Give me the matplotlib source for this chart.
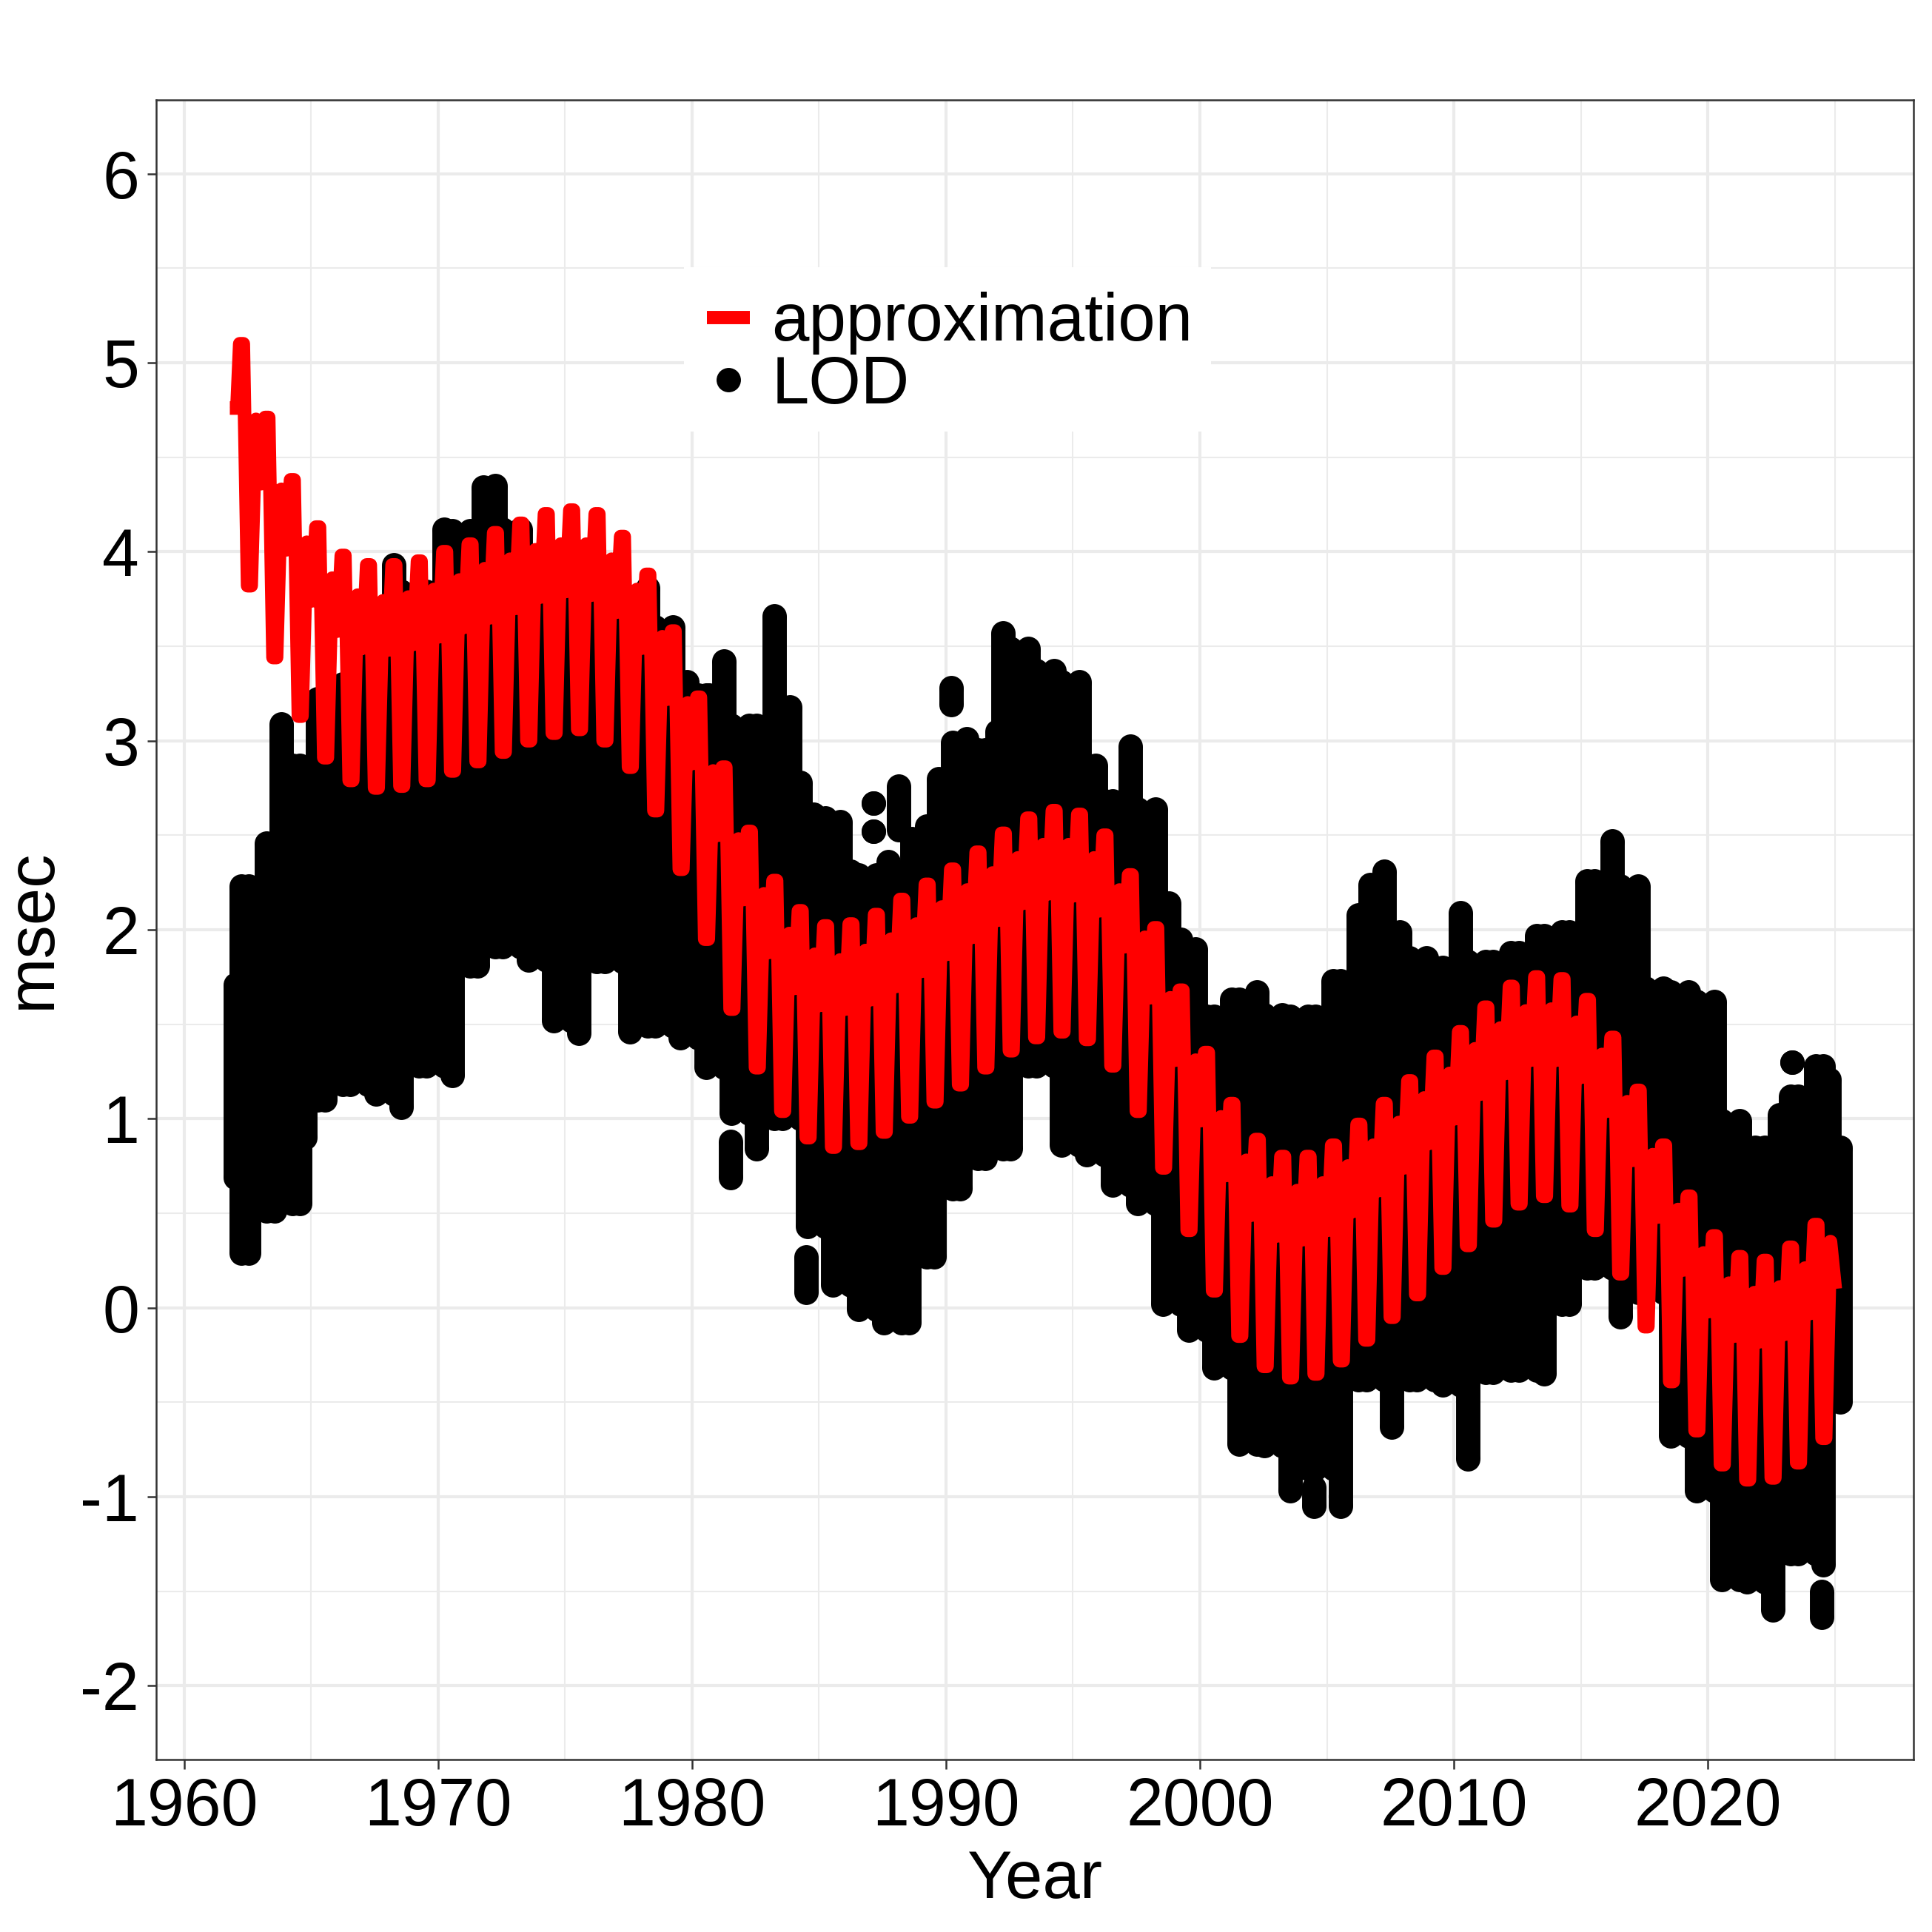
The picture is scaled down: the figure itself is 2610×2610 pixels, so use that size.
"""
plot.py
Length of day (LOD) excess against a harmonic approximation, 1962-2025.
"""
import matplotlib
matplotlib.use("Agg")
import matplotlib.pyplot as plt
from matplotlib.lines import Line2D
from matplotlib.patches import Rectangle
from matplotlib.ticker import MultipleLocator

plt.rcParams["font.family"] = ["Liberation Sans", "DejaVu Sans"]
plt.rcParams["axes.unicode_minus"] = False

years = list(range(1962, 2025))

# LOD cloud, top of each year's spring stack and bottom of its summer stack
lod_top = [2.23, 2.46, 2.87, 3.22, 3.30, 3.40, 3.93, 3.79, 4.12, 4.11, 4.35, 4.12, 3.70,
           3.70, 3.70, 3.70, 3.81, 3.60, 3.24, 3.42, 3.08, 3.66, 2.78, 2.59, 2.31, 2.29,
           2.30, 2.55, 2.99, 2.95, 3.57, 3.49, 3.37, 3.31, 2.68, 2.97, 2.64, 1.95, 1.54,
           1.63, 1.67, 1.55, 1.54, 1.73, 2.08, 2.31, 1.85, 1.80, 2.09, 1.83, 1.88, 1.97,
           1.99, 2.26, 2.47, 2.23, 1.69, 1.67, 1.62, 0.99, 0.85, 1.12, 1.28]
lod_bot = [0.29, 0.51, 0.55, 1.10, 1.18, 1.13, 1.06, 1.28, 1.23, 1.81, 1.91, 1.84, 1.52,
           1.45, 1.83, 1.46, 1.49, 1.43, 1.27, 1.03, 0.84, 1.00, 0.43, 0.12, -0.01, -0.08,
           -0.08, 0.27, 0.63, 0.79, 0.84, 1.28, 0.86, 0.81, 0.65, 0.55, 0.02, -0.12, -0.32,
           -0.72, -0.73, -0.97, -0.85, -1.05, -0.38, -0.63, -0.38, -0.41, -0.80, -0.34, -0.33,
           -0.35, 0.02, 0.21, -0.05, 0.08, -0.68, -0.97, -1.44, -1.45, -1.60, -1.30, -1.36]

# stacks that stand apart from the yearly pattern
stack_x = [1962.03, 1963.83, 1964.75, 1971.77, 1979.80, 1980.67, 1981.52, 1983.86, 1984.50, 1984.78,
           1985.82, 1987.16, 1987.16, 1987.73, 1988.15, 1988.65, 1989.72, 1990.20, 1990.83, 1992.00,
           1995.90, 1998.77, 1999.83, 2004.50, 2006.69, 2007.86, 2008.92, 2021.85, 2022.82, 2023.33,
           2024.48, 2024.77, 2025.20]
stack_low = [0.69, 2.00, 0.90, 3.50, 2.50, 2.00, 0.69, 2.00, 0.08, 1.50,
             1.00, 2.67, 2.52, 1.00, 2.53, 1.00, 1.50, 3.19, 1.50, 2.00,
             2.00, 1.00, 0.50, -1.05, 1.00, 0.50, 0.50, 0.00, -0.50, 1.30,
             -1.64, -0.30, -0.50]
stack_high = [1.71, 3.09, 2.85, 4.34, 3.31, 3.24, 0.88, 3.18, 0.27, 2.61,
              2.57, 2.67, 2.52, 2.36, 2.76, 2.48, 2.80, 3.28, 3.01, 3.05,
              2.87, 2.14, 1.90, -0.95, 2.24, 1.99, 1.85, 0.85, 1.02, 1.30,
              -1.50, 1.21, 0.85]

# approximation, one value for each turning point of the year
approx_peak = [5.10, 4.71, 4.38, 4.13, 3.98, 3.93, 3.93, 3.95, 4.00, 4.04, 4.10, 4.15, 4.20,
               4.22, 4.20, 4.08, 3.88, 3.58, 3.23, 2.86, 2.52, 2.26, 2.10, 2.02, 2.03, 2.08,
               2.16, 2.24, 2.32, 2.41, 2.51, 2.59, 2.63, 2.61, 2.50, 2.29, 2.01, 1.68, 1.35,
               1.08, 0.89, 0.80, 0.80, 0.86, 0.97, 1.08, 1.20, 1.33, 1.46, 1.59, 1.70, 1.75,
               1.74, 1.63, 1.43, 1.15, 0.86, 0.59, 0.38, 0.27, 0.25, 0.32, 0.44]
approx_trough = [3.82, 3.44, 3.13, 2.91, 2.79, 2.75, 2.76, 2.79, 2.84, 2.89, 2.94, 3.00, 3.04,
                 3.06, 3.00, 2.86, 2.63, 2.32, 1.95, 1.58, 1.27, 1.04, 0.90, 0.85, 0.87, 0.93,
                 1.01, 1.09, 1.18, 1.27, 1.36, 1.43, 1.46, 1.42, 1.28, 1.04, 0.74, 0.41, 0.09,
                 -0.15, -0.31, -0.37, -0.35, -0.28, -0.17, -0.05, 0.07, 0.21, 0.33, 0.46, 0.55, 0.59,
                 0.54, 0.41, 0.18, -0.10, -0.39, -0.65, -0.83, -0.91, -0.90, -0.82, -0.69]
approx_shoulder = [4.70, 4.33, 4.05, 3.86, 3.77, 3.74, 3.76, 3.80, 3.85, 3.91, 3.96, 4.01, 4.04,
                   4.04, 3.96, 3.80, 3.55, 3.20, 2.84, 2.48, 2.19, 1.98, 1.87, 1.84, 1.89, 1.95,
                   2.03, 2.12, 2.21, 2.30, 2.38, 2.45, 2.45, 2.38, 2.21, 1.96, 1.64, 1.31, 1.01,
                   0.78, 0.66, 0.62, 0.66, 0.75, 0.86, 0.98, 1.11, 1.24, 1.37, 1.48, 1.57, 1.58,
                   1.51, 1.34, 1.09, 0.81, 0.52, 0.29, 0.13, 0.08, 0.11, 0.21, 0.35]
approx_notch = [4.36, 4.01, 3.74, 3.58, 3.49, 3.48, 3.51, 3.55, 3.60, 3.65, 3.70, 3.76, 3.79,
                3.77, 3.68, 3.49, 3.22, 2.88, 2.50, 2.16, 1.88, 1.69, 1.60, 1.58, 1.63, 1.70,
                1.78, 1.87, 1.96, 2.05, 2.14, 2.19, 2.18, 2.10, 1.91, 1.64, 1.31, 0.99, 0.70,
                0.49, 0.38, 0.36, 0.41, 0.51, 0.62, 0.74, 0.87, 1.00, 1.13, 1.24, 1.31, 1.31,
                1.22, 1.04, 0.78, 0.48, 0.20, -0.02, -0.15, -0.18, -0.14, -0.03]
approx_start = (1961.80, 4.76)
approx_end = (2025.02, 0.10)

# LOD columns, each one reaches into its neighbours so the cloud stays solid
col_x, col_low, col_high = [], [], []
for i, y in enumerate(years):
    col_x.append(y + 0.25)
    col_high.append(lod_top[i])
    col_low.append(max(lod_bot[max(i - 1, 0)], lod_bot[i]))
    col_x.append(y + 0.55)
    col_low.append(lod_bot[i])
    col_high.append(min(lod_top[i], lod_top[min(i + 1, len(years) - 1)]))
col_x += stack_x
col_low += stack_low
col_high += stack_high

# approximation path, peak and trough stay level for a moment
path_x = [approx_start[0], 1962.08]
path_y = [approx_start[1], approx_start[1]]
for i, y in enumerate(years):
    path_x += [y + 0.19, y + 0.33, y + 0.50, y + 0.64, y + 0.83]
    path_y += [approx_peak[i], approx_peak[i], approx_trough[i], approx_trough[i], approx_shoulder[i]]
    if i < len(approx_notch):
        path_x.append(y + 1.04)
        path_y.append(approx_notch[i])
path_x.append(approx_end[0])
path_y.append(approx_end[1])

fig = plt.figure(figsize=(8.7, 8.7), dpi=300)
ax = fig.add_axes([211 / 2610, 1 - 2377 / 2610, 2374 / 2610, 2242 / 2610])

dot = 7.9  # marker diameter, points
ax.vlines(col_x, col_low, col_high, color="black", linewidth=dot, zorder=3)
ax.scatter(col_x, col_low, s=dot ** 2, color="black", linewidths=0, zorder=3)
ax.scatter(col_x, col_high, s=dot ** 2, color="black", linewidths=0, zorder=3)
ax.plot(path_x, path_y, color="red", linewidth=4.4, solid_joinstyle="round",
        solid_capstyle="butt", zorder=4)

ax.set_xlim(1958.9, 2028.1)
ax.set_ylim(-2.39, 6.39)
ax.xaxis.set_major_locator(MultipleLocator(10))
ax.xaxis.set_minor_locator(MultipleLocator(5))
ax.yaxis.set_major_locator(MultipleLocator(1))
ax.yaxis.set_minor_locator(MultipleLocator(0.5))
ax.grid(which="major", color="#EBEBEB", linewidth=1.0, zorder=0)
ax.grid(which="minor", color="#EBEBEB", linewidth=0.5, zorder=0)
ax.set_axisbelow(True)
ax.tick_params(which="minor", length=0)
ax.tick_params(which="major", length=3.0, width=0.6, color="#333333",
               labelsize=21.5, labelcolor="black", pad=2.5)
for spine in ax.spines.values():
    spine.set_linewidth(0.6)
    spine.set_color("#333333")

ax.set_xlabel("Year", fontsize=21.75, labelpad=3.2)
ax.set_ylabel("msec", fontsize=21.75, labelpad=5)

# white legend box, the text sits a little below its centre
ax.add_patch(Rectangle(((924 - 211) / 2374, (2377 - 583) / 2242), 712 / 2374, 222 / 2242,
                       transform=ax.transAxes, facecolor="white", edgecolor="none", zorder=5))
handles = [Line2D([0], [0], color="red", linewidth=4.3, solid_capstyle="butt"),
           Line2D([0], [0], linestyle="none", marker="o", markersize=dot,
                  markerfacecolor="black", markeredgecolor="black", markeredgewidth=0)]
leg = ax.legend(handles, ["approximation", "LOD"], loc="center",
                bbox_to_anchor=((1283 - 211) / 2374, (2377 - 479) / 2242),
                fontsize=21.75, frameon=False,
                handlelength=0.64, handletextpad=0.33, labelspacing=-0.01,
                borderpad=0.265, borderaxespad=0)
leg.set_zorder(6)

fig.savefig("out.png", dpi=300)
